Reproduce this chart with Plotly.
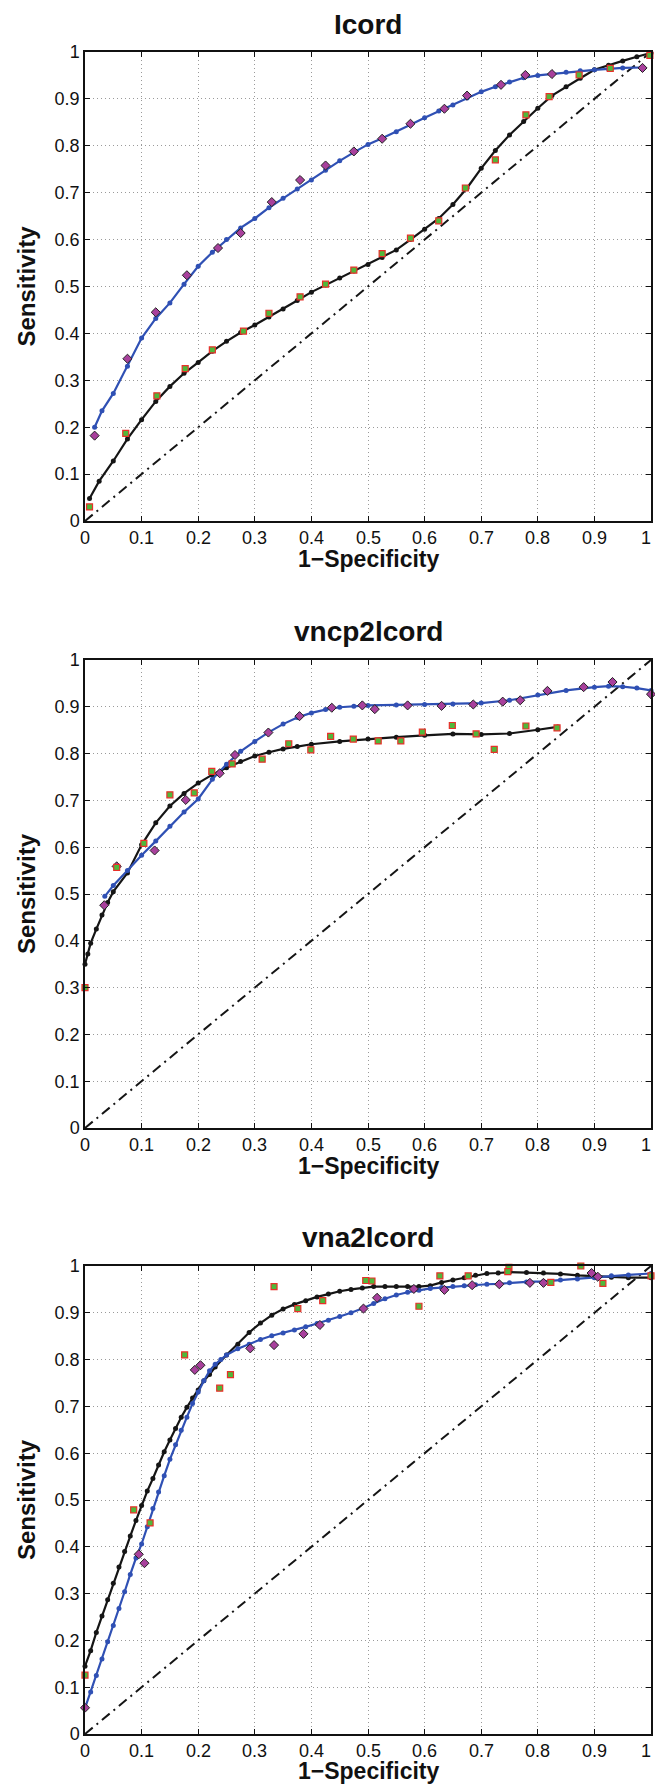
import plotly.graph_objects as go

W, H = 655, 1786

# ---- Icord ----
icord_fit_blue_x = [0.017, 0.03, 0.05, 0.075, 0.1, 0.125, 0.15, 0.175, 0.2, 0.225, 0.25, 0.275, 0.3, 0.325,
                    0.35, 0.375, 0.4, 0.425, 0.45, 0.475, 0.5, 0.525, 0.55, 0.575, 0.6, 0.625, 0.65, 0.675,
                    0.7, 0.725, 0.75, 0.775, 0.8, 0.825, 0.85, 0.875, 0.9, 0.925, 0.95, 0.985]
icord_fit_blue_y = [0.200, 0.235, 0.272, 0.330, 0.390, 0.432, 0.465, 0.505, 0.543, 0.573, 0.600, 0.625, 0.645, 0.668,
                    0.688, 0.708, 0.727, 0.748, 0.768, 0.786, 0.803, 0.816, 0.830, 0.845, 0.860, 0.874, 0.887, 0.902,
                    0.915, 0.926, 0.936, 0.945, 0.950, 0.953, 0.957, 0.960, 0.962, 0.964, 0.966, 0.967]
icord_fit_black_x = [0.008, 0.025, 0.05, 0.075, 0.1, 0.125, 0.15, 0.175, 0.2, 0.225, 0.25, 0.275, 0.3, 0.325,
                     0.35, 0.375, 0.4, 0.425, 0.45, 0.475, 0.5, 0.525, 0.55, 0.575, 0.6, 0.625, 0.65, 0.675,
                     0.7, 0.725, 0.75, 0.775, 0.8, 0.825, 0.85, 0.875, 0.9, 0.925, 0.95, 0.975, 1.0]
icord_fit_black_y = [0.048, 0.085, 0.128, 0.175, 0.216, 0.255, 0.287, 0.315, 0.338, 0.362, 0.383, 0.402, 0.418, 0.435,
                     0.452, 0.470, 0.488, 0.503, 0.518, 0.533, 0.547, 0.562, 0.578, 0.600, 0.622, 0.645, 0.675, 0.710,
                     0.752, 0.790, 0.823, 0.852, 0.880, 0.907, 0.926, 0.944, 0.962, 0.972, 0.981, 0.990, 0.998]
icord_diam_x = [0.017, 0.075, 0.125, 0.18, 0.235, 0.275, 0.33, 0.38, 0.425, 0.475, 0.525, 0.575, 0.635, 0.675,
                0.735, 0.778, 0.825, 0.985]
icord_diam_y = [0.182, 0.346, 0.445, 0.524, 0.582, 0.614, 0.680, 0.727, 0.758, 0.788, 0.815, 0.847, 0.879, 0.907,
                0.930, 0.951, 0.953, 0.966]
icord_sq_x = [0.008, 0.072, 0.127, 0.177, 0.225, 0.28, 0.325, 0.38, 0.425, 0.475, 0.525, 0.575, 0.625, 0.672,
              0.725, 0.779, 0.82, 0.873, 0.928, 0.998]
icord_sq_y = [0.030, 0.187, 0.267, 0.325, 0.365, 0.405, 0.443, 0.478, 0.505, 0.535, 0.570, 0.603, 0.640, 0.710,
              0.770, 0.866, 0.905, 0.951, 0.965, 0.993]

# ---- vncp2lcord ----
vncp_fit_blue_x = [0.035, 0.05, 0.075, 0.1, 0.125, 0.15, 0.175, 0.2, 0.225, 0.25, 0.275, 0.3, 0.325, 0.35,
                   0.375, 0.4, 0.425, 0.45, 0.475, 0.5, 0.55, 0.6, 0.65, 0.7, 0.75, 0.8, 0.85, 0.9, 0.925,
                   0.95, 0.975, 1.0]
vncp_fit_blue_y = [0.495, 0.518, 0.550, 0.583, 0.613, 0.645, 0.675, 0.703, 0.745, 0.777, 0.805, 0.826, 0.846, 0.863,
                   0.877, 0.887, 0.894, 0.899, 0.901, 0.903, 0.904, 0.905, 0.906, 0.908, 0.914, 0.925, 0.935, 0.942,
                   0.944, 0.943, 0.940, 0.935]
vncp_fit_black_x = [0.0, 0.005, 0.01, 0.02, 0.03, 0.04, 0.05, 0.075, 0.1, 0.125, 0.15, 0.175, 0.2, 0.225, 0.25,
                    0.275, 0.3, 0.325, 0.35, 0.375, 0.4, 0.45, 0.5, 0.55, 0.6, 0.65, 0.7, 0.75, 0.8, 0.835]
vncp_fit_black_y = [0.350, 0.372, 0.395, 0.425, 0.455, 0.482, 0.505, 0.545, 0.605, 0.652, 0.688, 0.715, 0.737, 0.755,
                    0.770, 0.783, 0.795, 0.803, 0.810, 0.815, 0.820, 0.826, 0.831, 0.835, 0.839, 0.842, 0.841,
                    0.843, 0.851, 0.857]
vncp_diam_x = [0.034, 0.056, 0.123, 0.178, 0.238, 0.265, 0.324, 0.379, 0.436, 0.49, 0.512, 0.57, 0.63, 0.686,
               0.738, 0.769, 0.817, 0.881, 0.932, 1.0]
vncp_diam_y = [0.476, 0.559, 0.593, 0.701, 0.758, 0.797, 0.845, 0.880, 0.898, 0.903, 0.895, 0.903, 0.902, 0.905,
               0.911, 0.914, 0.934, 0.942, 0.953, 0.927]
vncp_sq_x = [0.0, 0.056, 0.104, 0.15, 0.193, 0.224, 0.26, 0.313, 0.36, 0.399, 0.434, 0.474, 0.518, 0.558, 0.596,
             0.649, 0.691, 0.723, 0.779, 0.834]
vncp_sq_y = [0.300, 0.557, 0.608, 0.712, 0.716, 0.762, 0.778, 0.788, 0.821, 0.808, 0.837, 0.831, 0.827, 0.827,
             0.846, 0.860, 0.842, 0.809, 0.859, 0.855]

# ---- vna2lcord ----
vna_fit_black_x = [0.0, 0.01, 0.02, 0.03, 0.04, 0.05, 0.06, 0.07, 0.08, 0.09, 0.1, 0.11, 0.12, 0.13, 0.14, 0.15,
                   0.16, 0.17, 0.18, 0.19, 0.2, 0.21, 0.22, 0.23, 0.25, 0.27, 0.29, 0.31, 0.33, 0.35, 0.37, 0.39,
                   0.41, 0.43, 0.45, 0.47, 0.49, 0.51, 0.53, 0.55, 0.57, 0.59, 0.61, 0.63, 0.65, 0.67, 0.69,
                   0.71, 0.73, 0.75, 0.78, 0.81, 0.84, 0.87, 0.9, 0.93, 0.96, 1.0]
vna_fit_black_y = [0.145, 0.178, 0.217, 0.252, 0.287, 0.322, 0.357, 0.390, 0.423, 0.456, 0.488, 0.519, 0.546, 0.575,
                   0.603, 0.628, 0.653, 0.677, 0.698, 0.718, 0.735, 0.755, 0.768, 0.784, 0.810, 0.833, 0.858, 0.878,
                   0.895, 0.908, 0.918, 0.926, 0.934, 0.940, 0.946, 0.950, 0.953, 0.956, 0.956, 0.956, 0.956,
                   0.956, 0.958, 0.965, 0.970, 0.975, 0.980, 0.984, 0.985, 0.987, 0.986, 0.985, 0.983, 0.980,
                   0.978, 0.976, 0.975, 0.975]
vna_fit_blue_x = [0.0, 0.01, 0.02, 0.03, 0.04, 0.05, 0.06, 0.07, 0.08, 0.09, 0.1, 0.11, 0.12, 0.13, 0.14, 0.15,
                  0.16, 0.17, 0.18, 0.19, 0.2, 0.21, 0.22, 0.23, 0.24, 0.25, 0.27, 0.29, 0.31, 0.33, 0.35, 0.37,
                  0.39, 0.41, 0.43, 0.45, 0.47, 0.49, 0.51, 0.53, 0.55, 0.57, 0.59, 0.61, 0.63, 0.65, 0.67,
                  0.69, 0.71, 0.73, 0.75, 0.78, 0.81, 0.84, 0.87, 0.9, 0.93, 0.96, 1.0]
vna_fit_blue_y = [0.055, 0.090, 0.125, 0.160, 0.197, 0.232, 0.268, 0.304, 0.341, 0.376, 0.406, 0.443, 0.482, 0.517,
                  0.552, 0.587, 0.618, 0.649, 0.677, 0.706, 0.731, 0.755, 0.776, 0.790, 0.800, 0.810, 0.823, 0.833,
                  0.843, 0.851, 0.857, 0.863, 0.870, 0.877, 0.884, 0.892, 0.900, 0.909, 0.920, 0.930, 0.938,
                  0.944, 0.948, 0.952, 0.954, 0.956, 0.958, 0.960, 0.961, 0.962, 0.964, 0.966, 0.967, 0.970,
                  0.972, 0.975, 0.979, 0.981, 0.984]
vna_diam_x = [0.0, 0.095, 0.105, 0.194, 0.204, 0.292, 0.334, 0.386, 0.415, 0.492, 0.516, 0.581, 0.635, 0.684,
              0.732, 0.786, 0.81, 0.895, 0.906]
vna_diam_y = [0.056, 0.384, 0.365, 0.778, 0.788, 0.824, 0.831, 0.855, 0.874, 0.909, 0.932, 0.951, 0.949, 0.959,
              0.961, 0.964, 0.964, 0.985, 0.977]
vna_sq_x = [0.0, 0.086, 0.115, 0.176, 0.238, 0.257, 0.334, 0.376, 0.42, 0.496, 0.507, 0.59, 0.627, 0.677, 0.749,
            0.747, 0.823, 0.876, 0.915, 1.0]
vna_sq_y = [0.126, 0.479, 0.451, 0.810, 0.739, 0.768, 0.956, 0.909, 0.926, 0.969, 0.968, 0.914, 0.979, 0.979,
            0.997, 0.988, 0.965, 1.000, 0.963, 0.979]

titles = ["Icord", "vncp2lcord", "vna2lcord"]
tick_vals = [0, 0.1, 0.2, 0.3, 0.4, 0.5, 0.6, 0.7, 0.8, 0.9, 1]
tick_text = ["0", "0.1", "0.2", "0.3", "0.4", "0.5", "0.6", "0.7", "0.8", "0.9", "1"]

panels = [
    (icord_fit_blue_x, icord_fit_blue_y, icord_fit_black_x, icord_fit_black_y,
     icord_diam_x, icord_diam_y, icord_sq_x, icord_sq_y),
    (vncp_fit_blue_x, vncp_fit_blue_y, vncp_fit_black_x, vncp_fit_black_y,
     vncp_diam_x, vncp_diam_y, vncp_sq_x, vncp_sq_y),
    (vna_fit_blue_x, vna_fit_blue_y, vna_fit_black_x, vna_fit_black_y,
     vna_diam_x, vna_diam_y, vna_sq_x, vna_sq_y),
]

# pixel boxes of the three axes (top, bottom) and title rows
boxes = [(52, 521), (660, 1128), (1266, 1734)]
title_y = [25, 632, 1237]
xlabel_off = [38, 38, 37]
left_px, right_px = 85, 651

FONT = "Liberation Sans, Arial, Helvetica, sans-serif"
BLUE = "#2f50b4"
BLACK = "#151515"


def py(p):
    return 1 - p / H


fig = go.Figure()
layout = dict(width=W, height=H, margin=dict(l=0, r=0, t=0, b=0),
              paper_bgcolor="white", plot_bgcolor="white", showlegend=False,
              font=dict(family=FONT, color="#111"), annotations=[])

for i, (bx, by, kx, ky, dx, dy, sx, sy) in enumerate(panels):
    n = "" if i == 0 else str(i + 1)
    xa, ya = "x" + n, "y" + n
    fig.add_trace(go.Scatter(x=[0, 1], y=[0, 1], mode="lines", xaxis=xa, yaxis=ya,
                             line=dict(color=BLACK, width=2, dash="10px,5px,2px,5px")))
    fig.add_trace(go.Scatter(x=kx, y=ky, mode="lines+markers", xaxis=xa, yaxis=ya,
                             line=dict(color=BLACK, width=2.2), marker=dict(size=5, color=BLACK),
                             cliponaxis=False))
    fig.add_trace(go.Scatter(x=bx, y=by, mode="lines+markers", xaxis=xa, yaxis=ya,
                             line=dict(color=BLUE, width=2.2), marker=dict(size=5, color=BLUE),
                             cliponaxis=False))
    fig.add_trace(go.Scatter(x=dx, y=dy, mode="markers", xaxis=xa, yaxis=ya, cliponaxis=False,
                             marker=dict(symbol="diamond", size=7, color="#a8409c",
                                         line=dict(color="#222", width=1))))
    fig.add_trace(go.Scatter(x=sx, y=sy, mode="markers", xaxis=xa, yaxis=ya, cliponaxis=False,
                             marker=dict(symbol="square", size=6, color="#4fb83a",
                                         line=dict(color="#e8302a", width=1.2))))

    top, bot = boxes[i]
    common = dict(range=[0, 1], tickvals=tick_vals, ticktext=tick_text, showgrid=True,
                  gridcolor="#9a9a9a", griddash="1px,3px", gridwidth=1, zeroline=False,
                  showline=True, linecolor="#111", linewidth=1.5, mirror="ticks",
                  ticks="inside", ticklen=5, tickcolor="#111", tickwidth=1,
                  tickfont=dict(family=FONT, size=18, color="#111"), automargin=False, fixedrange=True)
    # x tick labels are drawn as annotations so the last one ("1") stays inside the page
    layout["xaxis" + n] = dict(common, domain=[left_px / W, right_px / W], anchor=ya,
                               showticklabels=False)
    layout["yaxis" + n] = dict(common, domain=[py(bot), py(top)], anchor=xa)

    for v, t in zip(tick_vals, tick_text):
        layout["annotations"].append(
            dict(text=t, x=v, xref=xa, y=py(bot + 17), yref="paper", showarrow=False,
                 xanchor="right" if v == 1 else "center", xshift=2 if v == 1 else 0,
                 yanchor="middle", font=dict(size=18, family=FONT, color="#111")))

    cx = (left_px + right_px) / 2 / W
    layout["annotations"] += [
        dict(text="<b>%s</b>" % titles[i], x=cx, y=py(title_y[i]), xref="paper", yref="paper",
             showarrow=False, xanchor="center", yanchor="middle", font=dict(size=28, family=FONT)),
        dict(text="<b>1\u2212Specificity</b>", x=cx, y=py(bot + xlabel_off[i]), xref="paper", yref="paper",
             showarrow=False, xanchor="center", yanchor="middle", font=dict(size=23, family=FONT)),
        dict(text="<b>Sensitivity</b>", x=26 / W, y=py((top + bot) / 2), xref="paper", yref="paper",
             showarrow=False, xanchor="center", yanchor="middle", textangle=-90,
             font=dict(size=24, family=FONT)),
    ]

fig.update_layout(**layout)
# drop the browser's default 8px body margin so the 655x1786 figure fills the window exactly
fig.write_html("out.html", config={"displayModeBar": False},
               post_script="document.body.style.margin='0';document.body.style.overflow='hidden';")
